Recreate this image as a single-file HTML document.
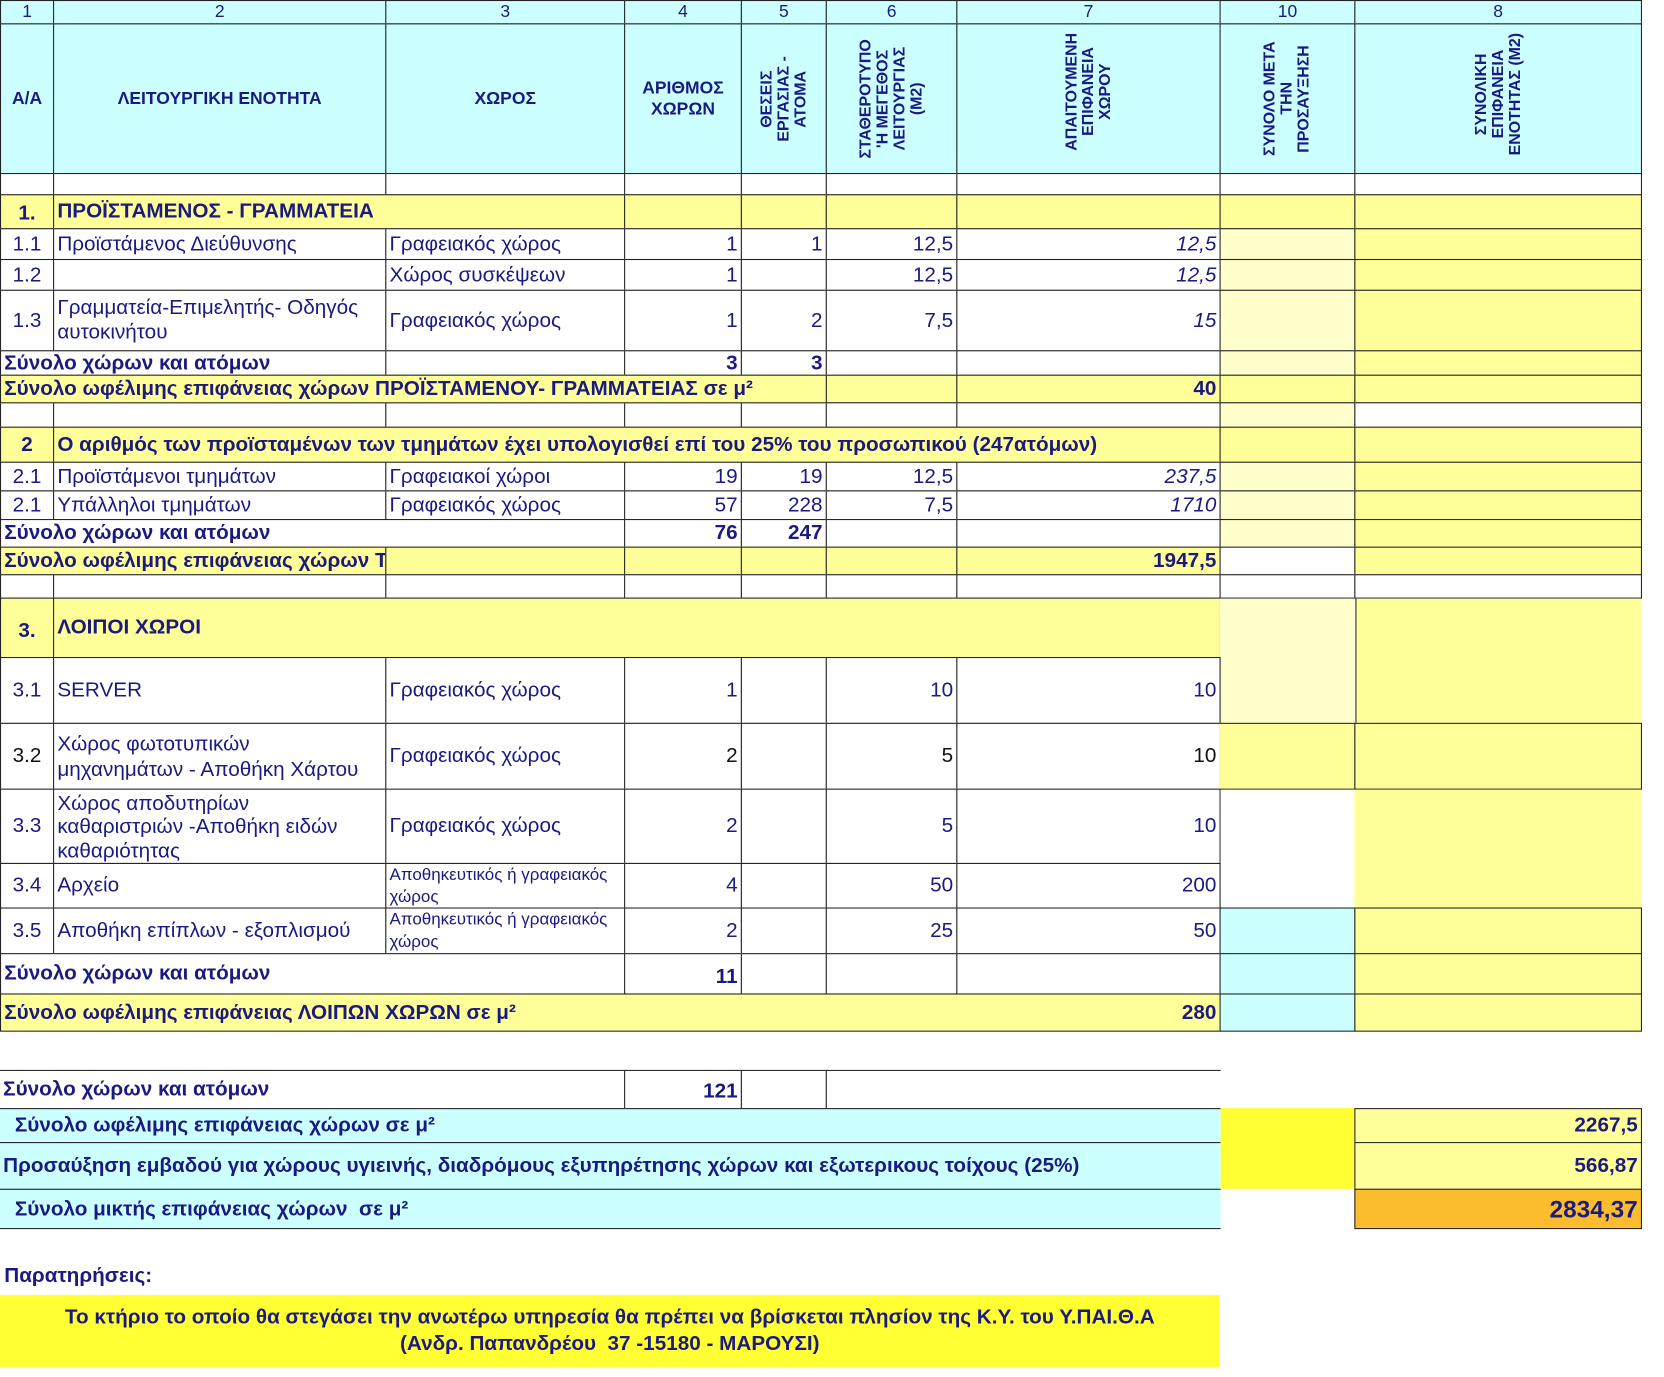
<!DOCTYPE html>
<html><head><meta charset="utf-8"><style>
html,body{margin:0;padding:0;background:#fff;width:1664px;height:1376px;overflow:hidden}
#w{position:absolute;left:0;top:0;width:1568px;height:1297px;transform:scale(1.0614);transform-origin:0 0;font-family:"Liberation Sans",sans-serif;color:#1a1a80}
.c{position:absolute;box-sizing:border-box;border:1.5px solid #222;display:flex;align-items:center;padding:0 3px;overflow:hidden;white-space:nowrap;font-size:19.5px;background:#fff}
.r{justify-content:flex-end}
.m{justify-content:center}
.b{font-weight:bold}
.i{font-style:italic}
.y{background:#ffff99}
.ly{background:#ffffcc}
.cy{background:#ccffff}
.by{background:#ffff33}
.o{background:#fbbc2d}
.nb{border:none}
.h{font-weight:bold;font-size:16.5px;text-align:center;white-space:normal;line-height:20px}
.v{writing-mode:vertical-rl;transform:rotate(180deg);font-weight:bold;font-size:15px;text-align:center;line-height:16px;white-space:nowrap}
.k{color:#111}
.w{line-height:23px}
.s{font-size:16.5px}
</style></head><body><div id="w">
<div class="c cy m s" style="left:0;top:0;width:51px;height:23px">1</div>
<div class="c cy m s" style="left:50px;top:0;width:314px;height:23px">2</div>
<div class="c cy m s" style="left:363px;top:0;width:226px;height:23px">3</div>
<div class="c cy m s" style="left:588px;top:0;width:111px;height:23px">4</div>
<div class="c cy m s" style="left:698px;top:0;width:81px;height:23px">5</div>
<div class="c cy m s" style="left:778px;top:0;width:124px;height:23px">6</div>
<div class="c cy m s" style="left:901px;top:0;width:249px;height:23px">7</div>
<div class="c cy m s" style="left:1149px;top:0;width:128px;height:23px">10</div>
<div class="c cy m s" style="left:1276px;top:0;width:271px;height:23px">8</div>
<div class="c cy m h" style="left:0;top:22px;width:51px;height:142px">Α/Α</div>
<div class="c cy m h" style="left:50px;top:22px;width:314px;height:142px">ΛΕΙΤΟΥΡΓΙΚΗ ΕΝΟΤΗΤΑ</div>
<div class="c cy m h" style="left:363px;top:22px;width:226px;height:142px">ΧΩΡΟΣ</div>
<div class="c cy m h" style="left:588px;top:22px;width:111px;height:142px">ΑΡΙΘΜΟΣ<br>ΧΩΡΩΝ</div>
<div class="c cy m" style="left:698px;top:22px;width:81px;height:142px"><div class="v">ΘΕΣΕΙΣ<br>ΕΡΓΑΣΙΑΣ -<br>ΑΤΟΜΑ</div></div>
<div class="c cy m" style="left:778px;top:22px;width:124px;height:142px"><div class="v">ΣΤΑΘΕΡΟΤΥΠΟ<br>'Η ΜΕΓΕΘΟΣ<br>ΛΕΙΤΟΥΡΓΙΑΣ<br>(Μ2)</div></div>
<div class="c cy m" style="left:901px;top:22px;width:249px;height:142px;align-items:flex-start;padding-top:8px"><div class="v">ΑΠΑΙΤΟΥΜΕΝΗ<br>ΕΠΙΦΑΝΕΙΑ<br>ΧΩΡΟΥ</div></div>
<div class="c cy m" style="left:1149px;top:22px;width:128px;height:142px"><div class="v">ΣΥΝΟΛΟ ΜΕΤΑ<br>ΤΗΝ<br>ΠΡΟΣΑΥΞΗΣΗ</div></div>
<div class="c cy m" style="left:1276px;top:22px;width:271px;height:142px;align-items:flex-start;padding-top:8px"><div class="v">ΣΥΝΟΛΙΚΗ<br>ΕΠΙΦΑΝΕΙΑ<br>ΕΝΟΤΗΤΑΣ (Μ2)</div></div>
<div class="c" style="left:0;top:163px;width:51px;height:21px"></div>
<div class="c" style="left:50px;top:163px;width:314px;height:21px"></div>
<div class="c" style="left:363px;top:163px;width:226px;height:21px"></div>
<div class="c" style="left:588px;top:163px;width:111px;height:21px"></div>
<div class="c" style="left:698px;top:163px;width:81px;height:21px"></div>
<div class="c" style="left:778px;top:163px;width:124px;height:21px"></div>
<div class="c" style="left:901px;top:163px;width:249px;height:21px"></div>
<div class="c" style="left:1149px;top:163px;width:128px;height:21px"></div>
<div class="c" style="left:1276px;top:163px;width:271px;height:21px"></div>
<div class="c y m b" style="left:0;top:183px;width:51px;height:33px;padding-top:4px">1.</div>
<div class="c y b" style="left:50px;top:183px;width:539px;height:33px">ΠΡΟΪΣΤΑΜΕΝΟΣ - ΓΡΑΜΜΑΤΕΙΑ</div>
<div class="c y" style="left:588px;top:183px;width:111px;height:33px"></div>
<div class="c y" style="left:698px;top:183px;width:81px;height:33px"></div>
<div class="c y" style="left:778px;top:183px;width:124px;height:33px"></div>
<div class="c y" style="left:901px;top:183px;width:249px;height:33px"></div>
<div class="c y" style="left:1149px;top:183px;width:128px;height:33px"></div>
<div class="c y" style="left:1276px;top:183px;width:271px;height:33px"></div>
<div class="c m" style="left:0;top:215px;width:51px;height:30px">1.1</div>
<div class="c" style="left:50px;top:215px;width:314px;height:30px">Προϊστάμενος Διεύθυνσης</div>
<div class="c" style="left:363px;top:215px;width:226px;height:30px">Γραφειακός χώρος</div>
<div class="c r" style="left:588px;top:215px;width:111px;height:30px">1</div>
<div class="c r" style="left:698px;top:215px;width:81px;height:30px">1</div>
<div class="c r" style="left:778px;top:215px;width:124px;height:30px">12,5</div>
<div class="c r i" style="left:901px;top:215px;width:249px;height:30px">12,5</div>
<div class="c ly" style="left:1149px;top:215px;width:128px;height:30px"></div>
<div class="c y" style="left:1276px;top:215px;width:271px;height:30px"></div>
<div class="c m" style="left:0;top:244px;width:51px;height:30px">1.2</div>
<div class="c" style="left:50px;top:244px;width:314px;height:30px"></div>
<div class="c" style="left:363px;top:244px;width:226px;height:30px">Χώρος συσκέψεων</div>
<div class="c r" style="left:588px;top:244px;width:111px;height:30px">1</div>
<div class="c r" style="left:698px;top:244px;width:81px;height:30px"></div>
<div class="c r" style="left:778px;top:244px;width:124px;height:30px">12,5</div>
<div class="c r i" style="left:901px;top:244px;width:249px;height:30px">12,5</div>
<div class="c ly" style="left:1149px;top:244px;width:128px;height:30px"></div>
<div class="c y" style="left:1276px;top:244px;width:271px;height:30px"></div>
<div class="c m" style="left:0;top:273px;width:51px;height:58px">1.3</div>
<div class="c w" style="left:50px;top:273px;width:314px;height:58px">Γραμματεία-Επιμελητής- Οδηγός<br>αυτοκινήτου</div>
<div class="c" style="left:363px;top:273px;width:226px;height:58px">Γραφειακός χώρος</div>
<div class="c r" style="left:588px;top:273px;width:111px;height:58px">1</div>
<div class="c r" style="left:698px;top:273px;width:81px;height:58px">2</div>
<div class="c r" style="left:778px;top:273px;width:124px;height:58px">7,5</div>
<div class="c r i" style="left:901px;top:273px;width:249px;height:58px">15</div>
<div class="c ly" style="left:1149px;top:273px;width:128px;height:58px"></div>
<div class="c y" style="left:1276px;top:273px;width:271px;height:58px"></div>
<div class="c b" style="left:0;top:330px;width:364px;height:24px">Σύνολο χώρων και ατόμων</div>
<div class="c" style="left:363px;top:330px;width:226px;height:24px"></div>
<div class="c r b" style="left:588px;top:330px;width:111px;height:24px">3</div>
<div class="c r b" style="left:698px;top:330px;width:81px;height:24px">3</div>
<div class="c" style="left:778px;top:330px;width:124px;height:24px"></div>
<div class="c" style="left:901px;top:330px;width:249px;height:24px"></div>
<div class="c ly" style="left:1149px;top:330px;width:128px;height:24px"></div>
<div class="c y" style="left:1276px;top:330px;width:271px;height:24px"></div>
<div class="c y b" style="left:0;top:353px;width:779px;height:27px;overflow:visible;z-index:2">Σύνολο ωφέλιμης επιφάνειας χώρων ΠΡΟΪΣΤΑΜΕΝΟΥ- ΓΡΑΜΜΑΤΕΙΑΣ σε μ²</div>
<div class="c y" style="left:778px;top:353px;width:124px;height:27px"></div>
<div class="c y r b" style="left:901px;top:353px;width:249px;height:27px">40</div>
<div class="c y" style="left:1149px;top:353px;width:128px;height:27px"></div>
<div class="c y" style="left:1276px;top:353px;width:271px;height:27px"></div>
<div class="c" style="left:0;top:379px;width:51px;height:24px"></div>
<div class="c" style="left:50px;top:379px;width:314px;height:24px"></div>
<div class="c" style="left:363px;top:379px;width:226px;height:24px"></div>
<div class="c" style="left:588px;top:379px;width:111px;height:24px"></div>
<div class="c" style="left:698px;top:379px;width:81px;height:24px"></div>
<div class="c" style="left:778px;top:379px;width:124px;height:24px"></div>
<div class="c" style="left:901px;top:379px;width:249px;height:24px"></div>
<div class="c ly" style="left:1149px;top:379px;width:128px;height:24px"></div>
<div class="c" style="left:1276px;top:379px;width:271px;height:24px"></div>
<div class="c y m b" style="left:0;top:402px;width:51px;height:34px">2</div>
<div class="c y b" style="left:50px;top:402px;width:1100px;height:34px">Ο αριθμός των προϊσταμένων των τμημάτων έχει υπολογισθεί επί του 25% του προσωπικού (247ατόμων)</div>
<div class="c y" style="left:1149px;top:402px;width:128px;height:34px"></div>
<div class="c y" style="left:1276px;top:402px;width:271px;height:34px"></div>
<div class="c m" style="left:0;top:435px;width:51px;height:28px">2.1</div>
<div class="c" style="left:50px;top:435px;width:314px;height:28px">Προϊστάμενοι τμημάτων</div>
<div class="c" style="left:363px;top:435px;width:226px;height:28px">Γραφειακοί χώροι</div>
<div class="c r" style="left:588px;top:435px;width:111px;height:28px">19</div>
<div class="c r" style="left:698px;top:435px;width:81px;height:28px">19</div>
<div class="c r" style="left:778px;top:435px;width:124px;height:28px">12,5</div>
<div class="c r i" style="left:901px;top:435px;width:249px;height:28px">237,5</div>
<div class="c ly" style="left:1149px;top:435px;width:128px;height:28px"></div>
<div class="c y" style="left:1276px;top:435px;width:271px;height:28px"></div>
<div class="c m" style="left:0;top:462px;width:51px;height:28px">2.1</div>
<div class="c" style="left:50px;top:462px;width:314px;height:28px">Υπάλληλοι τμημάτων</div>
<div class="c" style="left:363px;top:462px;width:226px;height:28px">Γραφειακός χώρος</div>
<div class="c r" style="left:588px;top:462px;width:111px;height:28px">57</div>
<div class="c r" style="left:698px;top:462px;width:81px;height:28px">228</div>
<div class="c r" style="left:778px;top:462px;width:124px;height:28px">7,5</div>
<div class="c r i" style="left:901px;top:462px;width:249px;height:28px">1710</div>
<div class="c ly" style="left:1149px;top:462px;width:128px;height:28px"></div>
<div class="c y" style="left:1276px;top:462px;width:271px;height:28px"></div>
<div class="c b" style="left:0;top:489px;width:589px;height:27px">Σύνολο χώρων και ατόμων</div>
<div class="c r b" style="left:588px;top:489px;width:111px;height:27px">76</div>
<div class="c r b" style="left:698px;top:489px;width:81px;height:27px">247</div>
<div class="c" style="left:778px;top:489px;width:124px;height:27px"></div>
<div class="c" style="left:901px;top:489px;width:249px;height:27px"></div>
<div class="c ly" style="left:1149px;top:489px;width:128px;height:27px"></div>
<div class="c y" style="left:1276px;top:489px;width:271px;height:27px"></div>
<div class="c y b" style="left:0;top:515px;width:364px;height:27px">Σύνολο ωφέλιμης επιφάνειας χώρων ΤΜΗΜΑΤΩΝ</div>
<div class="c y" style="left:363px;top:515px;width:226px;height:27px"></div>
<div class="c y" style="left:588px;top:515px;width:111px;height:27px"></div>
<div class="c y" style="left:698px;top:515px;width:81px;height:27px"></div>
<div class="c y" style="left:778px;top:515px;width:124px;height:27px"></div>
<div class="c y r b" style="left:901px;top:515px;width:249px;height:27px">1947,5</div>
<div class="c" style="left:1149px;top:515px;width:128px;height:27px"></div>
<div class="c y" style="left:1276px;top:515px;width:271px;height:27px"></div>
<div class="c" style="left:0;top:541px;width:51px;height:23px"></div>
<div class="c" style="left:50px;top:541px;width:314px;height:23px"></div>
<div class="c" style="left:363px;top:541px;width:226px;height:23px"></div>
<div class="c" style="left:588px;top:541px;width:111px;height:23px"></div>
<div class="c" style="left:698px;top:541px;width:81px;height:23px"></div>
<div class="c" style="left:778px;top:541px;width:124px;height:23px"></div>
<div class="c" style="left:901px;top:541px;width:249px;height:23px"></div>
<div class="c" style="left:1149px;top:541px;width:128px;height:23px"></div>
<div class="c" style="left:1276px;top:541px;width:271px;height:23px"></div>
<div class="c y m b" style="left:0;top:563px;width:51px;height:57px;padding-top:6px">3.</div>
<div class="c y b" style="left:50px;top:563px;width:1100px;height:57px">ΛΟΙΠΟΙ ΧΩΡΟΙ</div>
<div class="c ly nb" style="left:1149px;top:564px;width:127px;height:117px"></div>
<div class="c y nb" style="left:1277px;top:564px;width:269px;height:117px;border-left:1.5px solid #222"></div>
<div class="c m" style="left:0;top:619px;width:51px;height:63px">3.1</div>
<div class="c" style="left:50px;top:619px;width:314px;height:63px">SERVER</div>
<div class="c" style="left:363px;top:619px;width:226px;height:63px">Γραφειακός χώρος</div>
<div class="c r" style="left:588px;top:619px;width:111px;height:63px">1</div>
<div class="c" style="left:698px;top:619px;width:81px;height:63px"></div>
<div class="c r" style="left:778px;top:619px;width:124px;height:63px">10</div>
<div class="c r" style="left:901px;top:619px;width:249px;height:63px">10</div>
<div class="c m k" style="left:0;top:681px;width:51px;height:63px">3.2</div>
<div class="c" style="left:50px;top:681px;width:314px;height:63px;line-height:24px">Χώρος φωτοτυπικών<br>μηχανημάτων - Αποθήκη Χάρτου</div>
<div class="c" style="left:363px;top:681px;width:226px;height:63px">Γραφειακός χώρος</div>
<div class="c r k" style="left:588px;top:681px;width:111px;height:63px">2</div>
<div class="c" style="left:698px;top:681px;width:81px;height:63px"></div>
<div class="c r k" style="left:778px;top:681px;width:124px;height:63px">5</div>
<div class="c r k" style="left:901px;top:681px;width:249px;height:63px">10</div>
<div class="c y" style="left:1149px;top:681px;width:128px;height:63px;border-left:none"></div>
<div class="c y" style="left:1276px;top:681px;width:271px;height:63px"></div>
<div class="c m" style="left:0;top:743px;width:51px;height:71px">3.3</div>
<div class="c" style="left:50px;top:743px;width:314px;height:71px;line-height:22.5px;padding-top:2px">Χώρος αποδυτηρίων<br>καθαριστριών -Αποθήκη ειδών<br>καθαριότητας</div>
<div class="c" style="left:363px;top:743px;width:226px;height:71px">Γραφειακός χώρος</div>
<div class="c r" style="left:588px;top:743px;width:111px;height:71px">2</div>
<div class="c" style="left:698px;top:743px;width:81px;height:71px"></div>
<div class="c r" style="left:778px;top:743px;width:124px;height:71px">5</div>
<div class="c r" style="left:901px;top:743px;width:249px;height:71px">10</div>
<div class="c nb" style="left:1150px;top:744px;width:126px;height:111px"></div>
<div class="c y nb" style="left:1276px;top:744px;width:270px;height:111px"></div>
<div class="c m" style="left:0;top:813px;width:51px;height:43px">3.4</div>
<div class="c" style="left:50px;top:813px;width:314px;height:43px">Αρχείο</div>
<div class="c" style="left:363px;top:813px;width:226px;height:43px;font-size:16px;line-height:21px;align-items:flex-start">Αποθηκευτικός ή γραφειακός<br>χώρος</div>
<div class="c r" style="left:588px;top:813px;width:111px;height:43px">4</div>
<div class="c" style="left:698px;top:813px;width:81px;height:43px"></div>
<div class="c r" style="left:778px;top:813px;width:124px;height:43px">50</div>
<div class="c r" style="left:901px;top:813px;width:249px;height:43px">200</div>
<div class="c m" style="left:0;top:855px;width:51px;height:44px">3.5</div>
<div class="c" style="left:50px;top:855px;width:314px;height:44px">Αποθήκη επίπλων - εξοπλισμού</div>
<div class="c" style="left:363px;top:855px;width:226px;height:44px;font-size:16px;line-height:21px;align-items:flex-start">Αποθηκευτικός ή γραφειακός<br>χώρος</div>
<div class="c r" style="left:588px;top:855px;width:111px;height:44px">2</div>
<div class="c" style="left:698px;top:855px;width:81px;height:44px"></div>
<div class="c r" style="left:778px;top:855px;width:124px;height:44px">25</div>
<div class="c r" style="left:901px;top:855px;width:249px;height:44px">50</div>
<div class="c cy" style="left:1149px;top:855px;width:128px;height:44px"></div>
<div class="c y" style="left:1276px;top:855px;width:271px;height:44px"></div>
<div class="c b" style="left:0;top:898px;width:589px;height:39px">Σύνολο χώρων και ατόμων</div>
<div class="c r b" style="left:588px;top:898px;width:111px;height:39px;padding-top:6px">11</div>
<div class="c" style="left:698px;top:898px;width:81px;height:39px"></div>
<div class="c" style="left:778px;top:898px;width:124px;height:39px"></div>
<div class="c" style="left:901px;top:898px;width:249px;height:39px"></div>
<div class="c cy" style="left:1149px;top:898px;width:128px;height:39px"></div>
<div class="c y" style="left:1276px;top:898px;width:271px;height:39px"></div>
<div class="c y b" style="left:0;top:936px;width:1150px;height:36px">Σύνολο ωφέλιμης επιφάνειας ΛΟΙΠΩΝ ΧΩΡΩΝ σε μ²<span style="margin-left:auto">280</span></div>
<div class="c cy" style="left:1149px;top:936px;width:128px;height:36px"></div>
<div class="c y" style="left:1276px;top:936px;width:271px;height:36px"></div>
<div class="c b" style="left:0;top:1008px;width:589px;height:37px;border-left:none">Σύνολο χώρων και ατόμων</div>
<div class="c r b" style="left:588px;top:1008px;width:111px;height:37px;padding-top:4px">121</div>
<div class="c" style="left:698px;top:1008px;width:81px;height:37px"></div>
<div class="c" style="left:778px;top:1008px;width:372px;height:37px;border-right:none"></div>
<div class="c cy b" style="left:0;top:1044px;width:1150px;height:33px;padding-left:14px;border-left:none;border-right:none">Σύνολο ωφέλιμης επιφάνειας χώρων σε μ²</div>
<div class="c cy b" style="left:0;top:1076px;width:1150px;height:45px;border-left:none;border-right:none">Προσαύξηση εμβαδού για χώρους υγιεινής, διαδρόμους εξυπηρέτησης χώρων και εξωτερικους τοίχους (25%)</div>
<div class="c cy b" style="left:0;top:1120px;width:1150px;height:38px;padding-left:14px;border-left:none;border-right:none">Σύνολο μικτής επιφάνειας χώρων &nbsp;σε μ²</div>
<div class="c by nb" style="left:1150px;top:1044px;width:126px;height:76px"></div>
<div class="c y r b" style="left:1276px;top:1044px;width:271px;height:33px">2267,5</div>
<div class="c y r b" style="left:1276px;top:1076px;width:271px;height:45px">566,87</div>
<div class="c o r b" style="left:1276px;top:1120px;width:271px;height:38px;font-size:23px">2834,37</div>
<div style="position:absolute;left:4px;top:1191px;font-weight:bold;font-size:19.5px">Παρατηρήσεις:</div>
<div style="position:absolute;left:0;top:1220px;width:1149px;height:68px;background:#ffff33;font-weight:bold;font-size:19.5px;text-align:center;line-height:25px;padding-top:9px;box-sizing:border-box">Το κτήριο το οποίο θα στεγάσει την ανωτέρω υπηρεσία θα πρέπει να βρίσκεται πλησίον της Κ.Υ. του Υ.ΠΑΙ.Θ.Α<br>(Ανδρ. Παπανδρέου &nbsp;37 -15180 - ΜΑΡΟΥΣΙ)</div>
</div></body></html>
